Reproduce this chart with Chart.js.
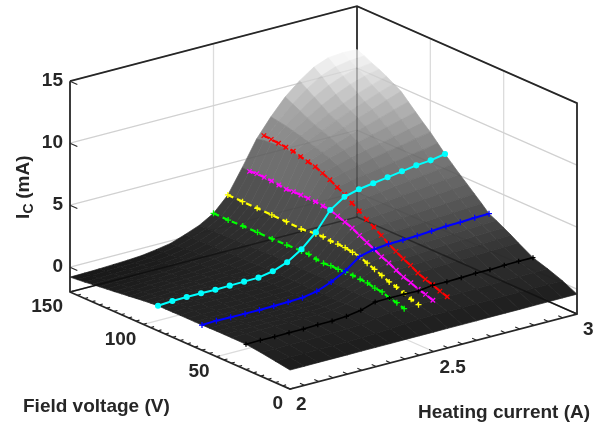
<!DOCTYPE html>
<html>
<head>
<meta charset="utf-8">
<style>
  html, body { margin: 0; padding: 0; background: #fff; }
  canvas { display: block; }
</style>
<script src="https://cdn.jsdelivr.net/npm/chart.js@4/dist/chart.umd.min.js"></script>
</head>
<body>
<canvas id="chart" width="593" height="427"></canvas>
<script>
// Axis values
const heatingCurrent = [2, 2.05, 2.1, 2.15, 2.2, 2.25, 2.3, 2.35, 2.4, 2.45, 2.5, 2.55, 2.6, 2.65, 2.7, 2.75, 2.8, 2.85, 2.9, 2.95, 3];
const fieldVoltage = [0, 10, 20, 30, 40, 45, 50, 55, 60, 65, 70, 75, 80, 85, 90, 95, 100, 105, 110, 115, 120, 125, 130, 135, 140, 145, 150];
const currentTicks = [2, 2.5, 3];
const voltageTicks = [0, 50, 100, 150];
const icTicks = [0, 5, 10, 15];

// Surface, one row per field voltage, one column per heating current
const surfaceIc = [
  [-0.47, -0.47, -0.46, -0.46, -0.46, -0.45, -0.45, -0.45, -0.44, -0.44, -0.44, -0.43, -0.43, -0.43, -0.42, -0.42, -0.42, -0.41, -0.41, -0.40, -0.40],
  [-0.28, -0.27, -0.26, -0.25, -0.24, -0.22, -0.20, -0.16, -0.08, 0.02, 0.08, 0.09, 0.10, 0.10, 0.11, 0.12, 0.13, 0.14, 0.15, 0.16, 0.17],
  [-0.10, -0.09, -0.08, -0.07, -0.06, -0.04, -0.02, 0.05, 0.22, 0.38, 0.41, 0.43, 0.48, 0.47, 0.48, 0.50, 0.52, 0.54, 0.56, 0.58, 0.60],
  [0.04, 0.06, 0.05, 0.07, 0.06, 0.11, 0.10, 0.18, 0.36, 0.73, 0.75, 0.85, 0.85, 0.91, 0.85, 0.88, 0.93, 0.92, 0.97, 0.99, 0.98],
  [0.05, 0.06, 0.06, 0.06, 0.06, 0.08, 0.09, 0.15, 0.34, 0.76, 1.03, 1.22, 1.31, 1.34, 1.40, 1.46, 1.50, 1.54, 1.57, 1.60, 1.65],
  [0.05, 0.06, 0.06, 0.06, 0.05, 0.07, 0.08, 0.14, 0.33, 0.77, 1.18, 1.48, 1.60, 1.69, 1.73, 1.79, 1.85, 1.89, 1.93, 1.97, 2.02],
  [0.05, 0.07, 0.06, 0.05, 0.05, 0.06, 0.08, 0.13, 0.33, 0.78, 1.22, 1.72, 1.93, 1.97, 2.05, 2.12, 2.18, 2.22, 2.26, 2.30, 2.35],
  [0.04, 0.07, 0.05, 0.05, 0.04, 0.05, 0.07, 0.12, 0.33, 0.78, 1.27, 1.91, 2.17, 2.30, 2.35, 2.41, 2.48, 2.54, 2.58, 2.63, 2.67],
  [0.03, 0.08, 0.05, 0.04, 0.03, 0.05, 0.07, 0.12, 0.33, 0.78, 1.28, 2.22, 2.51, 2.65, 2.65, 2.70, 2.77, 2.85, 2.87, 2.94, 2.96],
  [0.03, 0.08, 0.06, 0.05, 0.04, 0.06, 0.08, 0.12, 0.34, 0.79, 1.24, 2.31, 2.80, 3.07, 3.10, 3.16, 3.24, 3.32, 3.38, 3.46, 3.52],
  [0.03, 0.08, 0.07, 0.06, 0.05, 0.07, 0.09, 0.13, 0.35, 0.80, 1.27, 2.42, 3.11, 3.46, 3.55, 3.62, 3.70, 3.78, 3.86, 3.95, 4.05],
  [0.03, 0.09, 0.08, 0.07, 0.06, 0.08, 0.10, 0.14, 0.35, 0.80, 1.20, 2.45, 3.44, 3.82, 3.95, 4.05, 4.15, 4.25, 4.35, 4.47, 4.58],
  [0.02, 0.09, 0.09, 0.09, 0.08, 0.10, 0.12, 0.15, 0.36, 0.80, 1.27, 2.44, 3.67, 4.25, 4.35, 4.48, 4.60, 4.72, 4.85, 4.98, 5.10],
  [0.02, 0.09, 0.10, 0.10, 0.09, 0.11, 0.13, 0.16, 0.37, 0.80, 1.40, 2.52, 3.89, 4.64, 4.78, 4.92, 5.07, 5.22, 5.37, 5.50, 5.65],
  [0.02, 0.10, 0.12, 0.12, 0.10, 0.13, 0.15, 0.17, 0.38, 0.81, 1.45, 2.55, 4.11, 4.95, 5.18, 5.36, 5.54, 5.72, 5.90, 6.00, 6.21],
  [-0.04, 0.03, 0.06, 0.08, 0.08, 0.11, 0.14, 0.17, 0.37, 0.82, 1.41, 2.40, 4.18, 5.38, 5.65, 5.83, 6.03, 6.23, 6.43, 6.60, 6.83],
  [-0.10, -0.05, 0.00, 0.04, 0.05, 0.09, 0.12, 0.16, 0.36, 0.82, 1.37, 2.36, 4.26, 5.73, 6.05, 6.30, 6.55, 6.80, 7.00, 7.25, 7.45],
  [-0.17, -0.12, -0.07, -0.03, -0.01, 0.04, 0.08, 0.14, 0.35, 0.81, 1.35, 2.40, 4.27, 6.00, 6.35, 6.65, 6.93, 7.18, 7.45, 7.72, 7.98],
  [-0.25, -0.20, -0.15, -0.10, -0.08, -0.02, 0.04, 0.12, 0.34, 0.80, 1.34, 2.43, 4.28, 6.26, 6.65, 7.00, 7.35, 7.65, 7.95, 8.25, 8.55],
  [-0.32, -0.27, -0.22, -0.17, -0.14, -0.07, 0.01, 0.11, 0.33, 0.79, 1.34, 2.44, 4.28, 6.40, 6.85, 7.28, 7.68, 8.05, 8.40, 8.78, 9.12],
  [-0.40, -0.35, -0.30, -0.25, -0.20, -0.12, -0.02, 0.10, 0.32, 0.78, 1.35, 2.45, 4.22, 6.55, 7.05, 7.55, 8.00, 8.45, 8.85, 9.30, 9.70],
  [-0.46, -0.42, -0.38, -0.33, -0.29, -0.21, -0.10, 0.05, 0.30, 0.76, 1.34, 2.46, 4.31, 6.60, 7.22, 7.78, 8.30, 8.78, 9.22, 9.65, 10.05],
  [-0.53, -0.50, -0.47, -0.42, -0.38, -0.30, -0.18, 0.00, 0.28, 0.74, 1.34, 2.47, 4.36, 6.65, 7.40, 8.00, 8.60, 9.10, 9.60, 10.00, 10.40],
  [-0.60, -0.57, -0.54, -0.50, -0.45, -0.37, -0.24, -0.05, 0.26, 0.72, 1.32, 2.47, 4.40, 6.65, 7.55, 8.30, 9.00, 9.58, 10.08, 10.45, 10.70],
  [-0.68, -0.65, -0.62, -0.58, -0.52, -0.45, -0.30, -0.10, 0.24, 0.70, 1.30, 2.48, 4.40, 6.60, 7.70, 8.60, 9.40, 10.05, 10.50, 10.80, 10.95],
  [-0.74, -0.71, -0.68, -0.64, -0.58, -0.51, -0.35, -0.15, 0.22, 0.67, 1.31, 2.49, 4.36, 6.55, 7.80, 8.90, 9.80, 10.55, 10.98, 11.18, 11.25],
  [-0.80, -0.78, -0.75, -0.70, -0.65, -0.57, -0.40, -0.20, 0.20, 0.65, 1.32, 2.50, 4.40, 6.40, 7.90, 9.20, 10.20, 11.00, 11.45, 11.55, 11.50]
];

// Measured curves at constant field voltage (over heatingCurrent)
const cyanIc = [0.02, 0.10, 0.12, 0.12, 0.10, 0.13, 0.15, 0.17, 0.38, 0.81, 1.55, 2.62, 4.11, 4.88, 5.18, 5.36, 5.54, 5.72, 5.90, 6.00, 6.21];
const blueIc = [0.03, 0.08, 0.05, 0.04, 0.03, 0.05, 0.07, 0.12, 0.33, 0.78, 1.39, 2.25, 2.51, 2.63, 2.65, 2.70, 2.77, 2.85, 2.87, 2.94, 2.96];
const blackIc = [0.04, 0.06, 0.05, 0.07, 0.06, 0.11, 0.10, 0.18, 0.36, 0.73, 0.75, 0.75, 0.71, 0.87, 0.85, 0.88, 0.93, 0.92, 0.97, 0.99, 0.98];

// Measured curves at constant heating current (over field voltage)
const sparseVoltage = [150, 140, 130, 120, 110, 100, 90, 85, 80, 75, 70, 65, 60, 55, 50, 45, 40, 35, 30, 25, 20];
const denseVoltage = [145, 140, 135, 130, 125, 120, 115, 110, 105, 100, 95, 90, 85, 80, 75, 70, 65, 60, 55, 50, 45, 40, 35, 30, 25, 20];
const greenIc = [1.32, 1.30, 1.34, 1.35, 1.34, 1.37, 1.41, 1.40, 1.27, 1.20, 1.27, 1.24, 1.28, 1.27, 1.22, 1.18, 1.03, 0.98, 0.75, 0.63, 0.41];
const yellowIc = [2.50, 2.48, 2.47, 2.45, 2.43, 2.36, 2.50, 2.52, 2.44, 2.45, 2.42, 2.31, 2.22, 1.95, 1.72, 1.48, 1.22, 1.07, 0.85, 0.60, 0.43];
const magentaIc = [4.36, 4.44, 4.40, 4.36, 4.31, 4.22, 4.28, 4.28, 4.27, 4.26, 4.18, 4.11, 3.89, 3.67, 3.44, 3.11, 2.80, 2.51, 2.17, 1.93, 1.60, 1.31, 1.12, 0.85, 0.70, 0.48];
const redIc = [6.94, 6.90, 6.85, 6.78, 6.72, 6.55, 6.40, 6.26, 6.00, 5.73, 5.38, 5.07, 4.64, 4.25, 3.82, 3.46, 3.07, 2.65, 2.30, 1.97, 1.69, 1.34, 1.10, 0.91, 0.66, 0.47];

// Fixed oblique view of the box, in canvas units
const icFloor = -2;
const icTop = 15;
function project(current, voltage, ic) {
  return {
    x: 290 + (current - 2) * 287 - voltage / 150 * 220,
    y: 389 - (current - 2) * 75 - voltage / 150 * 97 - (ic - icFloor) * 12.4
  };
}

// Ic to gray level
const grayStops = [[-0.8, 24], [0, 34], [1.5, 50], [3, 76], [6.3, 122], [9, 182], [11.55, 252]];
function grayFor(ic) {
  for (let i = 1; i < grayStops.length; i++) {
    if (ic <= grayStops[i][0]) {
      const [a, ga] = grayStops[i - 1];
      const [b, gb] = grayStops[i];
      const t = Math.max(0, (ic - a) / (b - a));
      return Math.round(ga + (gb - ga) * t);
    }
  }
  return 255;
}

const datasets = [];
function addLine(points, style) {
  datasets.push(Object.assign({
    data: points,
    showLine: true,
    pointRadius: 0,
    borderWidth: 1,
    borderColor: '#262626',
    tension: 0,
    fill: false,
    clip: false,
    order: -datasets.length
  }, style));
}

// Back walls and floor grid
const gridStyle = { borderColor: '#dcdcdc', borderWidth: 1.3 };
icTicks.forEach(z => {
  addLine([project(2, 150, z), project(3, 150, z), project(3, 0, z)], gridStyle);
});
addLine([project(2.5, 150, icTop), project(2.5, 150, icFloor), project(2.5, 0, icFloor)], gridStyle);
[50, 100].forEach(v => {
  addLine([project(2, v, icFloor), project(3, v, icFloor), project(3, v, icTop)], gridStyle);
});

// Back edges of the box
const backEdges = [project(2, 150, icFloor), project(3, 150, icFloor), project(3, 0, icFloor)];
const backPost = [project(3, 150, icFloor), project(3, 150, icTop)];
addLine(backEdges, { borderWidth: 1.6 });
addLine(backPost, { borderWidth: 1.6 });

// Surface facets, far corner first
for (let r = fieldVoltage.length - 2; r >= 0; r--) {
  for (let c = heatingCurrent.length - 2; c >= 0; c--) {
    const corners = [[r, c], [r, c + 1], [r + 1, c + 1], [r + 1, c], [r, c]];
    const pts = corners.map(([i, j]) => project(heatingCurrent[j], fieldVoltage[i], surfaceIc[i][j]));
    const mean = (surfaceIc[r][c] + surfaceIc[r][c + 1] + surfaceIc[r + 1][c] + surfaceIc[r + 1][c + 1]) / 4;
    const g = grayFor(mean);
    const col = `rgb(${g},${g},${g})`;
    addLine(pts, { fill: 'shape', backgroundColor: col, borderColor: col, borderWidth: 0.7 });
  }
}

// The surface is slightly see-through: walls show up faintly behind it
const ghostGrid = { borderColor: 'rgba(0,0,0,0.05)', borderWidth: 1.3 };
icTicks.forEach(z => {
  addLine([project(2, 150, z), project(3, 150, z), project(3, 0, z)], ghostGrid);
});
addLine(backEdges, { borderColor: 'rgba(0,0,0,0.4)', borderWidth: 1.6 });
addLine(backPost, { borderColor: 'rgba(0,0,0,0.3)', borderWidth: 1.6 });

// Front edges and top of the box
addLine([project(2, 150, icTop), project(2, 150, icFloor), project(2, 0, icFloor), project(3, 0, icFloor), project(3, 0, icTop), project(3, 150, icTop), project(2, 150, icTop)], { borderWidth: 1.8 });

// Tick marks
const tickPts = [];
function addTick(a, b) {
  tickPts.push(a, b, { x: NaN, y: NaN });
}
icTicks.forEach(z => addTick(project(2, 150, z), project(2, 150 - 5, z)));
for (let i = 0; i <= 150; i += 5) {
  addTick(project(2, i, icFloor), project(2.012, i, icFloor));
}
heatingCurrent.forEach(i => addTick(project(i, 0, icFloor), project(i, 3, icFloor)));
addLine(tickPts, { borderWidth: 1.2, spanGaps: false });

// Measured curves
function curveAtVoltage(voltage, values) {
  return values.map((z, k) => project(heatingCurrent[k], voltage, z));
}
function curveAtCurrent(current, voltages, values) {
  return values.map((z, k) => project(current, voltages[k], z));
}
function markerStyle(color, pointStyle, radius, width, dash) {
  return {
    borderColor: color,
    borderWidth: width,
    borderDash: dash || [],
    pointRadius: radius,
    pointStyle: pointStyle,
    pointBorderColor: color,
    pointBackgroundColor: color,
    pointBorderWidth: 1.3
  };
}
addLine(curveAtCurrent(2.5, sparseVoltage, greenIc), markerStyle('#00ff00', 'cross', 3, 2.2, [6, 4]));
addLine(curveAtCurrent(2.55, sparseVoltage, yellowIc), markerStyle('#ffff00', 'cross', 3, 2.2, [6, 4]));
addLine(curveAtCurrent(2.6, denseVoltage, magentaIc), markerStyle('#ff00ff', 'crossRot', 3.2, 2.2, [6, 4]));
addLine(curveAtCurrent(2.65, denseVoltage, redIc), markerStyle('#ff0000', 'crossRot', 3.2, 2.2, [6, 4]));
addLine(curveAtVoltage(30, blackIc), markerStyle('#000000', 'cross', 2.5, 1.6));
addLine(curveAtVoltage(60, blueIc), markerStyle('#0000ff', 'cross', 3, 2));
addLine(curveAtVoltage(90, cyanIc), markerStyle('#00ffff', 'circle', 2.4, 2));

// Tick labels and axis titles
const textColor = '#262626';
const labelPlugin = {
  id: 'axisText',
  afterDraw(chart) {
    const ctx = chart.ctx;
    const sx = chart.scales.x;
    const sy = chart.scales.y;
    function put(p, dx, dy, text, align) {
      ctx.textAlign = align;
      ctx.fillText(text, sx.getPixelForValue(p.x) + dx, sy.getPixelForValue(p.y) + dy);
    }
    ctx.save();
    ctx.fillStyle = textColor;
    ctx.textBaseline = 'middle';
    ctx.font = 'bold 19px "Liberation Sans", Arial, sans-serif';
    icTicks.forEach(z => put(project(2, 150, z), -7, 0, String(z), 'right'));
    voltageTicks.forEach(v => put(project(2, v, icFloor), -7, 15, String(v), 'right'));
    currentTicks.forEach(i => put(project(i, 0, icFloor), 6, 16, String(i), 'left'));

    ctx.font = 'bold 19px "Liberation Sans", Arial, sans-serif';
    ctx.textAlign = 'left';
    ctx.fillText('Field voltage (V)', 23, 407);
    ctx.fillText('Heating current (A)', 418, 413);

    // Rotated I_C (mA) with a real subscript
    ctx.translate(24, 219);
    ctx.rotate(-Math.PI / 2);
    ctx.fillText('I', 0, 0);
    ctx.font = 'bold 14px "Liberation Sans", Arial, sans-serif';
    ctx.fillText('C', 5.5, 5);
    ctx.font = 'bold 19px "Liberation Sans", Arial, sans-serif';
    ctx.fillText(' (mA)', 15, 0);
    ctx.restore();
  }
};

new Chart(document.getElementById('chart'), {
  type: 'scatter',
  data: { datasets: datasets },
  options: {
    responsive: false,
    animation: false,
    layout: { padding: 0, autoPadding: false },
    plugins: { legend: { display: false }, tooltip: { enabled: false } },
    scales: {
      x: { type: 'linear', display: false, min: 0, max: 593 },
      y: { type: 'linear', display: false, min: 0, max: 427, reverse: true }
    }
  },
  plugins: [labelPlugin]
});
</script>
</body>
</html>
